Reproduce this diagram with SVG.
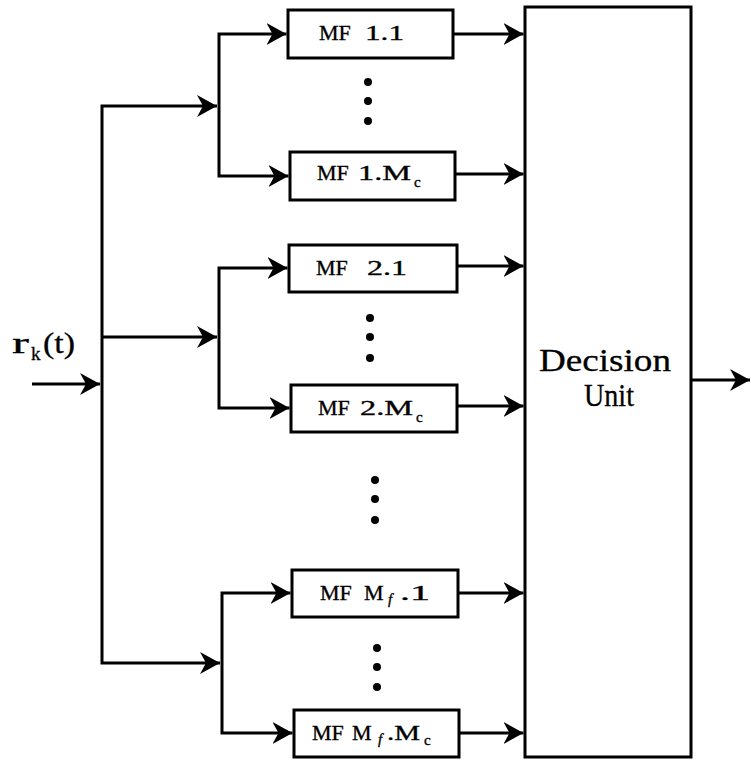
<svg xmlns="http://www.w3.org/2000/svg" width="751" height="761" viewBox="0 0 751 761">
<style>
.box{fill:#fff;stroke:#000;stroke-width:3}
.ln{fill:none;stroke:#000;stroke-width:3}
.t{font-family:"Liberation Serif","Times New Roman",serif;font-size:22px;fill:#000;stroke:#000;stroke-width:0.35}
.s{font-size:15px}
.big{font-family:"Liberation Serif","Times New Roman",serif;font-size:32px;fill:#000;stroke:#000;stroke-width:0.3}
.dot{fill:#000}
</style>
<defs>
<marker id="ah" viewBox="0 0 20 22" refX="20" refY="11" markerWidth="20" markerHeight="22" markerUnits="userSpaceOnUse" orient="auto-start-reverse">
<path d="M0,0 L20,11 L0,22 L6,11 Z" fill="#000"/>
</marker>
</defs>
<g id="connectors">
<path class="ln" d="M32,384 H100" marker-end="url(#ah)"/>
<path class="ln" d="M217,106 H102 V663 H220" marker-start="url(#ah)" marker-end="url(#ah)"/>
<path class="ln" d="M102,337 H217" marker-end="url(#ah)"/>
<path class="ln" d="M286.5,34 H219 V176 H288.5" marker-start="url(#ah)" marker-end="url(#ah)"/>
<path class="ln" d="M287.5,268 H219 V408 H289.5" marker-start="url(#ah)" marker-end="url(#ah)"/>
<path class="ln" d="M290.5,593 H222 V733 H292.5" marker-start="url(#ah)" marker-end="url(#ah)"/>
<path class="ln" d="M453,34 H523.5" marker-end="url(#ah)"/>
<path class="ln" d="M455,174 H523.5" marker-end="url(#ah)"/>
<path class="ln" d="M457,266 H523.5" marker-end="url(#ah)"/>
<path class="ln" d="M457,406 H523.5" marker-end="url(#ah)"/>
<path class="ln" d="M458,593 H523.5" marker-end="url(#ah)"/>
<path class="ln" d="M459,733 H523.5" marker-end="url(#ah)"/>
<path class="ln" d="M691,380 H750" marker-end="url(#ah)"/>
</g>
<g id="input-label">
<text class="big" x="12" y="353" style="font-size:29px"><tspan textLength="17" lengthAdjust="spacingAndGlyphs">r</tspan><tspan x="31" y="360" style="font-size:19px">k</tspan><tspan x="43" y="353" textLength="32" lengthAdjust="spacingAndGlyphs">(t)</tspan></text>
</g>
<g id="mf11">
<rect class="box" x="288" y="10" width="165" height="48"/>
<text class="t" x="319" y="40">MF <tspan x="365" textLength="39" lengthAdjust="spacingAndGlyphs">1.1</tspan></text>
</g>
<g id="mf1mc">
<rect class="box" x="290" y="152" width="165" height="48"/>
<text class="t" x="317" y="180">MF <tspan x="358" textLength="53" lengthAdjust="spacingAndGlyphs">1.M</tspan><tspan class="s" x="414" y="187">c</tspan></text>
</g>
<g id="mf21">
<rect class="box" x="289" y="245" width="168" height="47"/>
<text class="t" x="316" y="275">MF <tspan x="367" textLength="40" lengthAdjust="spacingAndGlyphs">2.1</tspan></text>
</g>
<g id="mf2mc">
<rect class="box" x="291" y="385" width="166" height="47"/>
<text class="t" x="318" y="415">MF <tspan x="360" textLength="53" lengthAdjust="spacingAndGlyphs">2.M</tspan><tspan class="s" x="416" y="422">c</tspan></text>
</g>
<g id="mfmf1">
<rect class="box" x="292" y="570" width="166" height="47"/>
<text class="t" x="320" y="600">MF <tspan x="364">M</tspan><tspan class="s" x="388" y="604" font-style="italic">f</tspan><tspan x="400" y="600" textLength="30" lengthAdjust="spacingAndGlyphs">.1</tspan></text>
</g>
<g id="mfmfmc">
<rect class="box" x="294" y="710" width="165" height="47"/>
<text class="t" x="312" y="740">MF <tspan x="352">M</tspan><tspan class="s" x="378" y="744" font-style="italic">f</tspan><tspan x="387" y="740" textLength="33" lengthAdjust="spacingAndGlyphs">.M</tspan><tspan class="s" x="424" y="745">c</tspan></text>
</g>
<g id="decision">
<rect class="box" x="525" y="7" width="166" height="750"/>
<text class="big" x="539" y="371" textLength="132" lengthAdjust="spacingAndGlyphs">Decision</text>
<text class="big" x="584" y="406" textLength="50" lengthAdjust="spacingAndGlyphs">Unit</text>
</g>
<g id="dots">
<circle class="dot" cx="368" cy="82" r="4"/><circle class="dot" cx="368" cy="101" r="4"/><circle class="dot" cx="368" cy="121" r="4"/>
<circle class="dot" cx="370" cy="318" r="4"/><circle class="dot" cx="370" cy="337" r="4"/><circle class="dot" cx="370" cy="358" r="4"/>
<circle class="dot" cx="375" cy="480" r="4"/><circle class="dot" cx="375" cy="499" r="4"/><circle class="dot" cx="375" cy="520" r="4"/>
<circle class="dot" cx="377" cy="648" r="4"/><circle class="dot" cx="377" cy="667" r="4"/><circle class="dot" cx="377" cy="687" r="4"/>
</g>
</svg>
